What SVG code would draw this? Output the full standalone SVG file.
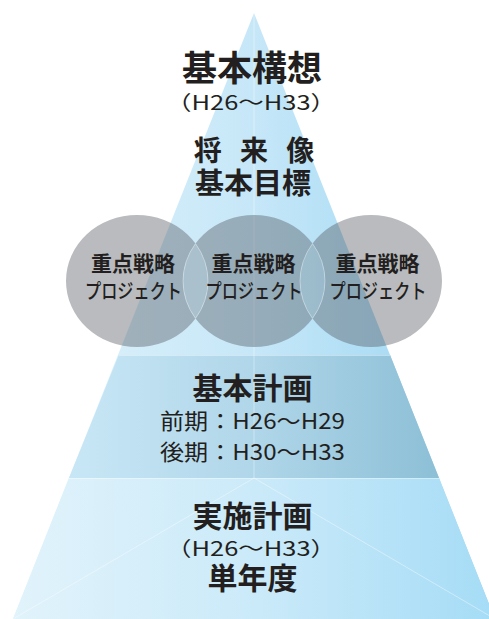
<svg xmlns="http://www.w3.org/2000/svg" width="489" height="619" viewBox="0 0 489 619">
  <defs>
    <linearGradient id="gTop" gradientUnits="userSpaceOnUse" x1="13" y1="0" x2="495" y2="0">
      <stop offset="0" stop-color="#e2f3fb"/>
      <stop offset="0.5" stop-color="#c6e7f8"/>
      <stop offset="1" stop-color="#96d4f2"/>
    </linearGradient>
    <linearGradient id="gMid" gradientUnits="userSpaceOnUse" x1="70" y1="0" x2="440" y2="0">
      <stop offset="0" stop-color="#c8e7f6"/>
      <stop offset="0.5" stop-color="#b0d6e9"/>
      <stop offset="1" stop-color="#8cbfd6"/>
    </linearGradient>
    <linearGradient id="gBot" gradientUnits="userSpaceOnUse" x1="13" y1="0" x2="495" y2="0">
      <stop offset="0" stop-color="#e1f3fb"/>
      <stop offset="0.5" stop-color="#cbeaf9"/>
      <stop offset="1" stop-color="#a5dcf6"/>
    </linearGradient>
    <style>
      text { font-family: "Noto Sans CJK JP", "Noto Sans", sans-serif; fill: #231f20; text-anchor: middle; }
      .b { font-weight: 700; }
      .n { font-weight: 400; }
      .m { font-weight: 500; }
      .edge { stroke: #ffffff; stroke-opacity: 0.5; stroke-width: 0.8; fill: none; }
    </style>
  </defs>

  <!-- pyramid layers -->
  <g id="pyramid">
    <polygon points="254,13 13,619 495,619" fill="url(#gTop)"/>
    <polygon points="118.9,355 390.1,355 439.1,478 68.9,478" fill="url(#gMid)"/>
    <polygon points="68.9,478 439.1,478 495,619 13,619" fill="url(#gBot)"/>
  </g>

  <g id="connectors">
    <line class="edge" x1="254" y1="13" x2="254" y2="478"/>
    <line class="edge" x1="118.9" y1="355.5" x2="390.1" y2="355.5"/>
    <line class="edge" x1="68.9" y1="478.5" x2="439.1" y2="478.5"/>
    <line class="edge" x1="254" y1="478" x2="13" y2="619"/>
    <line class="edge" x1="254" y1="478" x2="495" y2="619"/>
  </g>

  <!-- circles -->
  <g id="circles">
    <path fill="#50555c" fill-opacity="0.4" fill-rule="evenodd"
      d="M66,281 a71,66 0 1,0 142,0 a71,66 0 1,0 -142,0 Z
         M183,281 a71,66 0 1,0 142,0 a71,66 0 1,0 -142,0 Z
         M300,281 a71,66 0 1,0 142,0 a71,66 0 1,0 -142,0 Z"/>
    <path fill="#50555c" fill-opacity="0.28" stroke="#ffffff" stroke-opacity="0.45" stroke-width="0.8"
      d="M195.5,243.6 A71,66 0 0,1 195.5,318.4 A71,66 0 0,1 195.5,243.6 Z"/>
    <path fill="#50555c" fill-opacity="0.28" stroke="#ffffff" stroke-opacity="0.45" stroke-width="0.8"
      d="M312.5,243.6 A71,66 0 0,1 312.5,318.4 A71,66 0 0,1 312.5,243.6 Z"/>
  </g>

  <g id="node-kihonkoso">
    <text class="b" x="252" y="81" font-size="35">基本構想</text>
    <text class="n" x="251" y="110" font-size="20" textLength="170" lengthAdjust="spacingAndGlyphs">（H26〜H33）</text>
  </g>

  <g id="node-shoraizo">
    <text class="b" x="254" y="161" font-size="28" word-spacing="12">将 来 像</text>
    <text class="b" x="253" y="194" font-size="29">基本目標</text>
  </g>

  <g id="node-project-1">
    <text class="b" x="133" y="271" font-size="21">重点戦略</text>
    <text class="m" x="133.5" y="299" font-size="20" textLength="97" lengthAdjust="spacingAndGlyphs">プロジェクト</text>
  </g>
  <g id="node-project-2">
    <text class="b" x="253.5" y="271" font-size="21">重点戦略</text>
    <text class="m" x="254" y="299" font-size="20" textLength="97" lengthAdjust="spacingAndGlyphs">プロジェクト</text>
  </g>
  <g id="node-project-3">
    <text class="b" x="377.5" y="271" font-size="21">重点戦略</text>
    <text class="m" x="378" y="299" font-size="20" textLength="97" lengthAdjust="spacingAndGlyphs">プロジェクト</text>
  </g>

  <g id="node-kihonkeikaku">
    <text class="b" x="252.5" y="399" font-size="30">基本計画</text>
    <text class="n" x="252.5" y="429" font-size="22" textLength="185" lengthAdjust="spacingAndGlyphs">前期：H26〜H29</text>
    <text class="n" x="252.5" y="460" font-size="22" textLength="185" lengthAdjust="spacingAndGlyphs">後期：H30〜H33</text>
  </g>

  <g id="node-jisshikeikaku">
    <text class="b" x="252.5" y="527" font-size="30">実施計画</text>
    <text class="n" x="251" y="556" font-size="20" textLength="170" lengthAdjust="spacingAndGlyphs">（H26〜H33）</text>
    <text class="b" x="252.5" y="589" font-size="30">単年度</text>
  </g>
</svg>
